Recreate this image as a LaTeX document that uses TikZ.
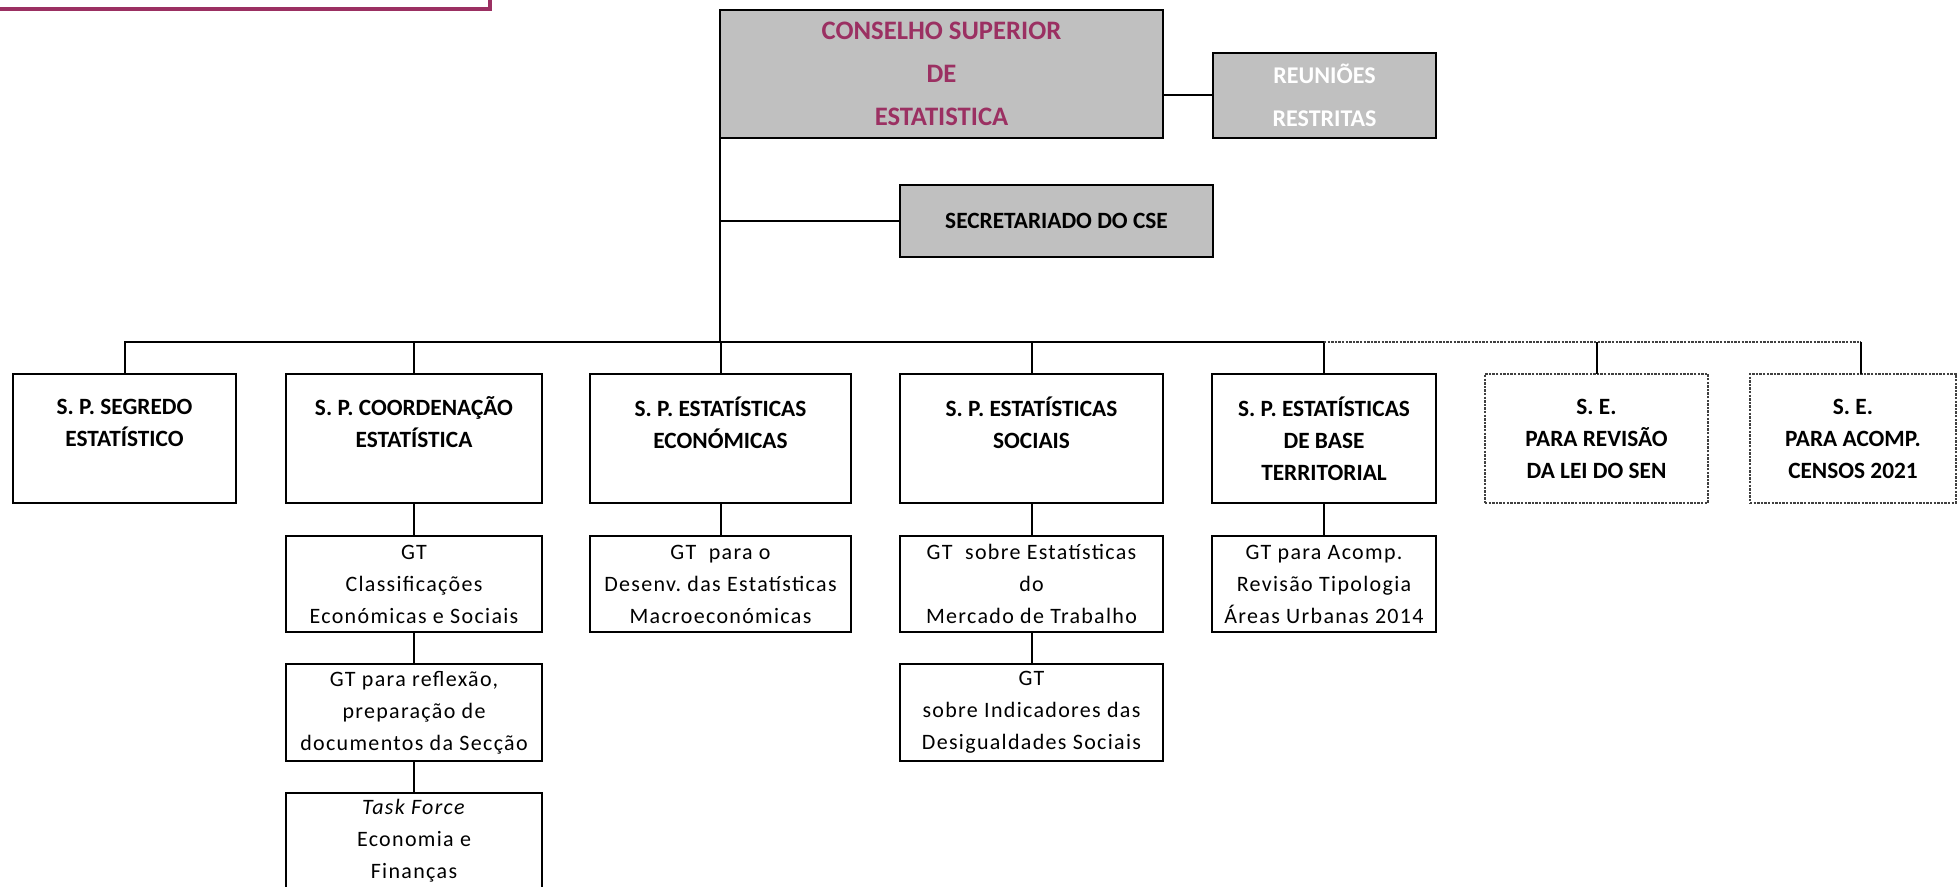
\documentclass[tikz,border=0pt]{standalone}
\usepackage{fontspec}
\setmainfont{Carlito}
\definecolor{cseviolet}{RGB}{155,48,98}
\definecolor{boxgray}{RGB}{192,192,192}
\newcommand\pxu{0.75pt}
\begin{document}
\frenchspacing
\begin{tikzpicture}[x=0.75pt,y=-0.75pt,
  every node/.style={inner sep=0pt, outer sep=0pt},
  topbox/.style={draw=black, fill=boxgray, line width=1.6pt, align=center,
    font=\bfseries\fontsize{18}{32}\selectfont},
  rowbox/.style={draw=black, line width=1.5pt, align=center,
    font=\bfseries\fontsize{17.5}{24}\selectfont},
  sebox/.style={rowbox, draw=black!75, line width=1.1pt, dash pattern=on 1.8pt off 0.9pt},
  subbox/.style={draw=black, line width=1.5pt, align=center,
    font=\fontsize{16.5}{24}\selectfont\addfontfeatures{LetterSpace=6}},
  link/.style={line width=1.5pt},
  dlink/.style={line width=1.1pt, draw=black!75, dash pattern=on 1.8pt off 0.9pt},
]
\useasboundingbox (0,0) rectangle (1958,887);
\clip (0,0) rectangle (1958,887);

% purple header rule
\draw[cseviolet, line width=3pt] (0,9) -- (490,9) -- (490,0);

% top level
\node[topbox, text=cseviolet, font=\bfseries\fontsize{20}{32}\selectfont,
  minimum width=443*\pxu, minimum height=128*\pxu] (cse) at (941.5,74)
  {CONSELHO SUPERIOR\\DE\\ESTATISTICA};
\node[topbox, text=white, minimum width=223*\pxu, minimum height=85*\pxu] (reu) at (1324.5,95.5)
  {REUNIÕES\\RESTRITAS};
\node[topbox, font=\bfseries\fontsize{17.5}{24}\selectfont, minimum width=313*\pxu, minimum height=72*\pxu] (sec) at (1056.5,221)
  {SECRETARIADO DO CSE};

% sections
\node[rowbox, minimum width=223*\pxu, minimum height=129*\pxu] (b1) at (124.5,438.5) {S. P. SEGREDO\\ESTATÍSTICO\\~};
\node[rowbox, minimum width=256*\pxu, minimum height=129*\pxu] (b2) at (414,438.5) {S. P. COORDENAÇÃO\\ESTATÍSTICA\\~};
\node[rowbox, minimum width=261*\pxu, minimum height=129*\pxu] (b3) at (720.5,438.5) {S. P. ESTATÍSTICAS\\ECONÓMICAS\\~};
\node[rowbox, minimum width=263*\pxu, minimum height=129*\pxu] (b4) at (1031.5,438.5) {S. P. ESTATÍSTICAS\\SOCIAIS\\~};
\node[rowbox, minimum width=224*\pxu, minimum height=129*\pxu] (b5) at (1324,438.5) {S. P. ESTATÍSTICAS\\DE BASE\\TERRITORIAL};
\node[sebox, minimum width=223*\pxu, minimum height=129*\pxu] (b6) at (1596.5,438.5) {S. E.\\PARA REVISÃO\\DA LEI DO SEN};
\node[sebox, minimum width=206*\pxu, minimum height=129*\pxu] (b7) at (1853,438.5) {S. E.\\PARA ACOMP.\\CENSOS 2021};

% working groups
\node[subbox, minimum width=256*\pxu, minimum height=96*\pxu] (s21) at (414,584) {GT\\Classificações\\Económicas e Sociais};
\node[subbox, minimum width=256*\pxu, minimum height=97*\pxu] (s22) at (414,712.5) {GT para reflexão,\\preparação de\\documentos da Secção};
\node[subbox, minimum width=256*\pxu, minimum height=96*\pxu] (s23) at (414,841) {\textit{Task Force}\\Economia e\\Finanças};
\node[subbox, minimum width=261*\pxu, minimum height=96*\pxu] (s31) at (720.5,584) {GT~ para o\\Desenv. das Estatísticas\\Macroeconómicas};
\node[subbox, minimum width=263*\pxu, minimum height=96*\pxu] (s41) at (1031.5,584) {GT~ sobre Estatísticas\\do\\Mercado de Trabalho};
\node[subbox, minimum width=263*\pxu, minimum height=97*\pxu] (s42) at (1031.5,712.5) {GT\\sobre Indicadores das\\Desigualdades Sociais};
\node[subbox, minimum width=224*\pxu, minimum height=96*\pxu] (s51) at (1324,584) {GT para Acomp.\\Revisão Tipologia\\Áreas Urbanas 2014};

% connectors
\coordinate (bus) at (0,342);
\coordinate (b7drop) at (1861,342);
\draw[link] (reu.west) -- (reu.west -| cse.east);
\draw[link] (cse.south west) -- (cse.south west |- bus);
\draw[link] (sec.west) -- (sec.west -| cse.south west);
\draw[link] (b1.north) -- (b1.north |- bus) -- (b5.north |- bus) -- (b5.north);
\foreach \n in {b2,b3,b4,b6} \draw[link] (\n.north) -- (\n.north |- bus);
\draw[dlink] (b5.north |- bus) -- (b7drop);
\draw[link] (b7drop) -- (b7drop |- b7.north);
\draw[link] (b2.south) -- (s21.north);
\draw[link] (s21.south) -- (s22.north);
\draw[link] (s22.south) -- (s23.north);
\draw[link] (b3.south) -- (s31.north);
\draw[link] (b4.south) -- (s41.north);
\draw[link] (s41.south) -- (s42.north);
\draw[link] (b5.south) -- (s51.north);
\end{tikzpicture}
\end{document}
